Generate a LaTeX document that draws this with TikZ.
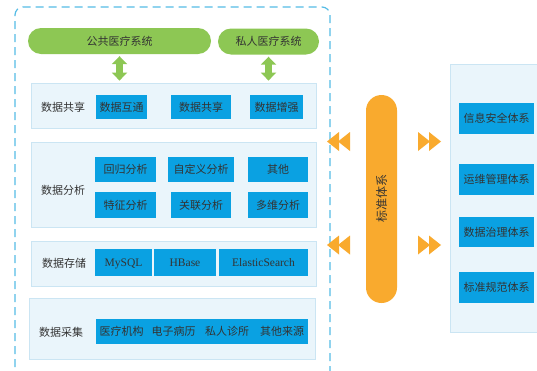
\documentclass[tikz,border=0pt]{standalone}
\usepackage{fontspec}
\setmainfont{Noto Sans CJK SC}
\newfontfamily\latinf{Liberation Serif}
\usetikzlibrary{arrows.meta}
\definecolor{boxblue}{HTML}{0AA1E2}
\definecolor{pgreen}{HTML}{8DC754}
\definecolor{porange}{HTML}{F9AA2E}
\definecolor{panelfill}{HTML}{EAF5FB}
\definecolor{panelline}{HTML}{CBE5F3}
\definecolor{dashblue}{HTML}{55BCE6}
\definecolor{txt}{HTML}{333333}
\tikzset{
  every node/.style={font=\fontsize{11}{13}\selectfont, text=txt},
  panel/.style={fill=panelfill, draw=panelline, line width=0.8pt, inner sep=0pt},
  bbox/.style={fill=boxblue, draw=none, inner sep=0pt, minimum height=24pt},
  latin/.style={font=\latinf\fontsize{11.5}{13}\selectfont, text height=7.5pt, text depth=0pt},
  pill/.style={fill=pgreen, draw=none, rounded corners=13pt, inner sep=0pt, minimum height=26pt},
  lbl/.style={inner sep=0pt},
  garrow/.style={draw=pgreen, line width=6.5pt, {Triangle[width=15pt,length=8pt]}-{Triangle[width=15pt,length=8pt]}},
  chev/.style={fill=porange, draw=none}
}
\begin{document}
\begin{tikzpicture}[x=1pt,y=-1pt]
\useasboundingbox (0,0) rectangle (537,370);
\fill[white] (0,0) rectangle (537,370);
% outer dashed frame
\draw[dashblue, line width=1.2pt, dash pattern=on 8pt off 5pt, rounded corners=8pt]
  (15,380) -- (15,7) -- (330,7) -- (330,380);
% green pills
\node[pill, minimum width=183pt] (pub) at (119.5,41) {公共医疗系统};
\node[pill, minimum width=101pt] (priv) at (268.5,41.5) {私人医疗系统};
% share panel
\node[panel, minimum width=285pt, minimum height=45pt] (share) at (173.5,105.5) {};
\node[lbl] (sharel) at (63,107) {数据共享};
\node[bbox, minimum width=51pt] (s1) at (121.5,107) {数据互通};
\node[bbox, minimum width=60pt] (s2) at (201,107) {数据共享};
\node[bbox, minimum width=53pt] (s3) at (276.5,107) {数据增强};
% arrows
\draw[garrow] ([yshift=-2pt]pub.south) -- ([yshift=2pt]pub.south |- share.north);
\draw[garrow] ([yshift=-2pt]priv.south) -- ([yshift=2pt]priv.south |- share.north);
% analysis panel
\node[panel, minimum width=285pt, minimum height=85pt] (ana) at (173.5,184.5) {};
\node[lbl] (anal) at (63,190) {数据分析};
\node[bbox, minimum width=61pt, minimum height=25pt] (a1) at (125.5,169.5) {回归分析};
\node[bbox, minimum width=66pt, minimum height=25pt] (a2) at (201,169.5) {自定义分析};
\node[bbox, minimum width=60pt, minimum height=25pt] (a3) at (278,169.5) {其他};
\node[bbox, minimum width=61pt, minimum height=26pt] (a4) at (125.5,205) {特征分析};
\node[bbox, minimum width=60pt, minimum height=26pt] (a5) at (201,205) {关联分析};
\node[bbox, minimum width=60pt, minimum height=26pt] (a6) at (278,205) {多维分析};
% storage panel
\node[panel, minimum width=285pt, minimum height=45pt] (sto) at (173.5,263.5) {};
\node[lbl] (stol) at (64,263) {数据存储};
\node[bbox, latin, minimum width=57pt, minimum height=27pt] (m1) at (123.5,262.5) {MySQL};
\node[bbox, latin, minimum width=62pt, minimum height=27pt] (m2) at (185,262.5) {HBase};
\node[bbox, latin, minimum width=89pt, minimum height=27pt] (m3) at (263.5,262.5) {ElasticSearch};
% collect panel
\node[panel, minimum width=286pt, minimum height=61pt] (col) at (172,328.5) {};
\node[lbl] (coll) at (61,332) {数据采集};
\node[bbox, minimum width=212pt, minimum height=25pt] (cbox) at (202,331.5) {};
\node[lbl] (c1) at (121.5,331.5) {医疗机构};
\node[lbl] (c2) at (173.5,331.5) {电子病历};
\node[lbl] (c3) at (227,331.5) {私人诊所};
\node[lbl] (c4) at (282,331.5) {其他来源};
% standard pill
\node[fill=porange, draw=none, rounded corners=15.5pt, minimum width=31pt, minimum height=208pt, inner sep=0pt] (std) at (381.5,199) {};
\node[lbl, rotate=90, font=\fontsize{12}{13}\selectfont] (stdl) at (381.5,198.5) {标准体系};
% right panel
\fill[panelfill] (450,64) rectangle (545,332);
\draw[panelline, line width=0.8pt] (545,64) -- (450,64) -- (450,332) -- (545,332);
\node[bbox, minimum width=75pt, minimum height=31pt] (r1) at (496.5,118.5) {信息安全体系};
\node[bbox, minimum width=75pt, minimum height=31pt] (r2) at (496.5,179.5) {运维管理体系};
\node[bbox, minimum width=75pt, minimum height=30pt] (r3) at (496.5,232) {数据治理体系};
\node[bbox, minimum width=75pt, minimum height=31pt] (r4) at (496.5,287.5) {标准规范体系};
% chevrons
\foreach \c in {141.5,245}{
  \fill[chev] (327,\c) -- (339,\c-9.5) -- (339,\c+9.5) -- cycle;
  \fill[chev] (338,\c) -- (350,\c-9.5) -- (350,\c+9.5) -- cycle;
  \fill[chev] (418,\c-9.5) -- (430,\c) -- (418,\c+9.5) -- cycle;
  \fill[chev] (429,\c-9.5) -- (441,\c) -- (429,\c+9.5) -- cycle;
}
\end{tikzpicture}
\end{document}
